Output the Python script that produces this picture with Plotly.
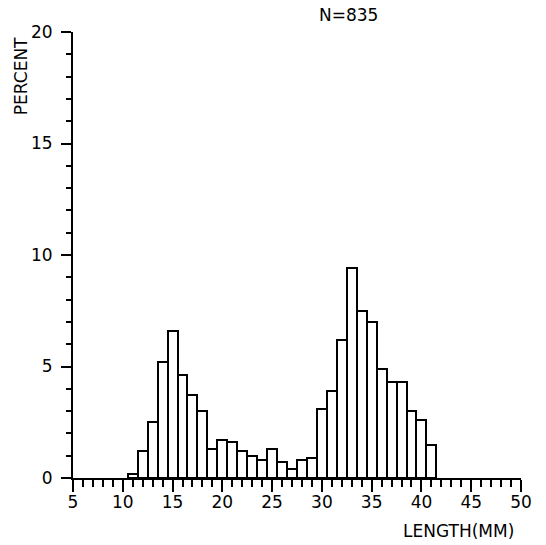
import plotly.graph_objects as go

# Length-frequency histogram, 1 mm classes (class midpoints in mm)
length_mm = list(range(11, 42))
percent = [
    0.2, 1.2, 2.5, 5.2, 6.6, 4.6, 3.7, 3.0, 1.3, 1.7,
    1.6, 1.2, 1.0, 0.8, 1.3, 0.7, 0.4, 0.8, 0.9, 3.1,
    3.9, 6.2, 9.4, 7.5, 7.0, 4.9, 4.3, 4.3, 3.0, 2.6,
    1.5,
]
x_ticks = [5, 10, 15, 20, 25, 30, 35, 40, 45, 50]
y_ticks = [0, 5, 10, 15, 20]
sample_size = 835

FONT = "DejaVu Sans"
INK = "black"

fig = go.Figure()
fig.add_trace(go.Bar(
    x=length_mm,
    y=percent,
    width=1,
    marker=dict(color="white", line=dict(color=INK, width=2)),
    showlegend=False,
))

fig.update_layout(
    width=546,
    height=545,
    margin=dict(l=73, r=25, t=32, b=67),
    paper_bgcolor="white",
    plot_bgcolor="white",
    font=dict(family=FONT, size=17, color=INK),
    bargap=0,
    xaxis=dict(
        range=[5, 50],
        tickvals=x_ticks,
        ticktext=[str(v) for v in x_ticks],
        showline=True, linecolor=INK, linewidth=2,
        ticks="outside", ticklen=12, tickwidth=2, tickcolor=INK,
        minor=dict(dtick=1, ticks="outside", ticklen=7, tickwidth=2,
                   tickcolor=INK, showgrid=False),
        showgrid=False, zeroline=False,
        ticklabelstandoff=-4,
        tickfont=dict(family=FONT, size=17, color=INK),
    ),
    yaxis=dict(
        range=[0, 20],
        tickvals=y_ticks,
        ticktext=[str(v) for v in y_ticks],
        showline=True, linecolor=INK, linewidth=2,
        ticks="outside", ticklen=10, tickwidth=2, tickcolor=INK,
        minor=dict(dtick=1, ticks="outside", ticklen=5, tickwidth=2,
                   tickcolor=INK, showgrid=False),
        showgrid=False, zeroline=False,
        ticklabelstandoff=5,
        tickfont=dict(family=FONT, size=17, color=INK),
    ),
    annotations=[
        dict(text=f"N={sample_size}", xref="paper", yref="paper",
             x=0.616, y=1.037, xanchor="center", yanchor="middle",
             showarrow=False, font=dict(family=FONT, size=17, color=INK)),
        dict(text="PERCENT", xref="paper", yref="paper",
             x=-0.117, y=0.90, xanchor="center", yanchor="middle",
             textangle=-90, showarrow=False,
             font=dict(family=FONT, size=17, color=INK)),
        dict(text="LENGTH(MM)", xref="paper", yref="paper",
             x=0.861, y=-0.118, xanchor="center", yanchor="middle",
             showarrow=False, font=dict(family=FONT, size=17, color=INK)),
    ],
)

fig.write_html("out.html")
